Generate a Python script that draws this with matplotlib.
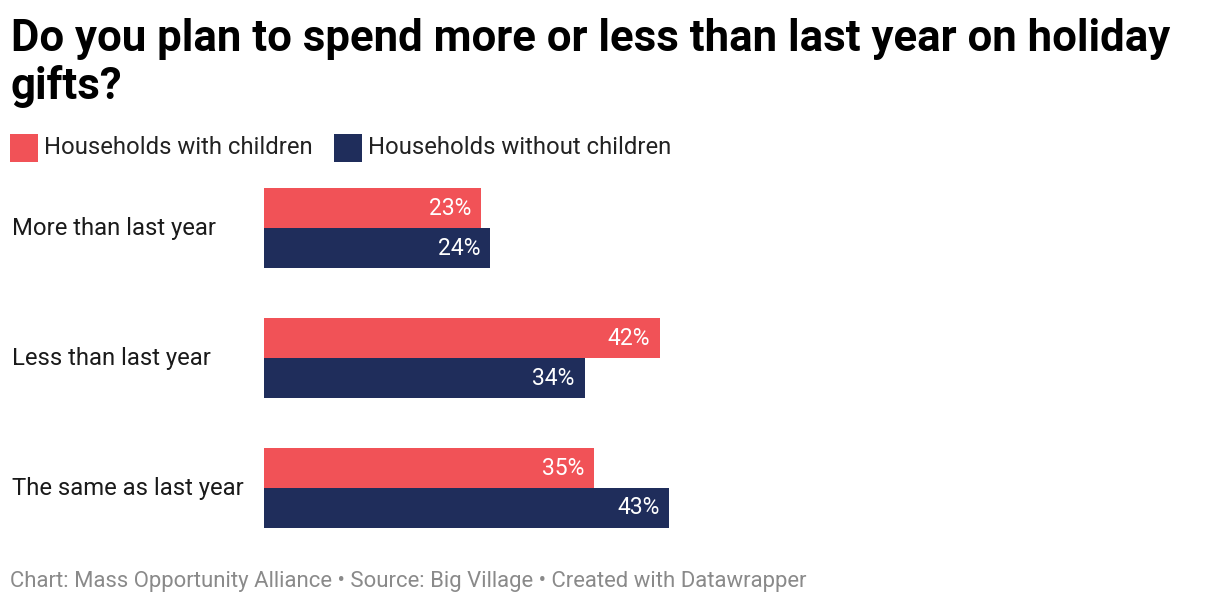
import numpy as np
import matplotlib.pyplot as plt
from matplotlib.transforms import blended_transform_factory
from matplotlib.patches import Rectangle

# Gegevens uit de grafiek
categorieen = ['More than last year', 'Less than last year', 'The same as last year']
met_kinderen = [23, 42, 35]
zonder_kinderen = [24, 34, 43]
reeks_namen = ['Households with children', 'Households without children']
kleuren = ['#f15257', '#1f2d5b']

plt.rcParams['font.family'] = ['Roboto', 'DejaVu Sans']

W, H = 1220, 606
fig = plt.figure(figsize=(W / 100, H / 100), dpi=100)

def px(x, y):
    # pixel (van linksboven) naar figuurcoordinaten
    return x / W, 1 - y / H

# Titel
fig.text(*px(11, 51), 'Do you plan to spend more or less than last year on holiday',
         fontsize=31.5, fontweight='bold', color='#000000', va='baseline')
fig.text(*px(11, 99), 'gifts?', fontsize=31.5, fontweight='bold', color='#000000', va='baseline')

# Legenda
leg_x = [10, 334]
for lx, naam, kleur in zip(leg_x, reeks_namen, kleuren):
    fig.patches.append(Rectangle(px(lx, 162), 28 / W, 28 / H, transform=fig.transFigure,
                                 facecolor=kleur, edgecolor='none'))
    fig.text(*px(lx + 34, 147), naam, fontsize=17.2, color='#222222', va='center')

# Balken
ax_left, ax_top, ax_bottom = 264, 163, 553
ax = fig.add_axes([ax_left / W, 1 - ax_bottom / H, (W - ax_left) / W, (ax_bottom - ax_top) / H])
schaal = 9.43  # pixels per procentpunt
ax.set_xlim(0, (W - ax_left) / schaal)
ax.set_ylim(len(categorieen) - 0.5, -0.5)
ax.axis('off')

y = np.arange(len(categorieen))
hoogte = 40 / 130
ax.barh(y - hoogte / 2, met_kinderen, height=hoogte, color=kleuren[0])
ax.barh(y + hoogte / 2, zonder_kinderen, height=hoogte, color=kleuren[1])

marge = 10 / schaal
for i in range(len(categorieen)):
    ax.text(met_kinderen[i] - marge, y[i] - hoogte / 2, f'{met_kinderen[i]}%', color='white',
            fontsize=16.5, ha='right', va='center')
    ax.text(zonder_kinderen[i] - marge, y[i] + hoogte / 2, f'{zonder_kinderen[i]}%', color='white',
            fontsize=16.5, ha='right', va='center')

trans = blended_transform_factory(fig.transFigure, ax.transData)
for i, cat in enumerate(categorieen):
    ax.text(12 / W, y[i], cat, transform=trans, fontsize=17.2, color='#1a1a1a',
            ha='left', va='center')

# Voetnoot
fig.text(*px(10, 581), 'Chart: Mass Opportunity Alliance \u2022 Source: Big Village \u2022 Created with Datawrapper',
         fontsize=15.9, color='#8a8a8a', va='center')

fig.savefig('out.png', dpi=100, facecolor='white')
